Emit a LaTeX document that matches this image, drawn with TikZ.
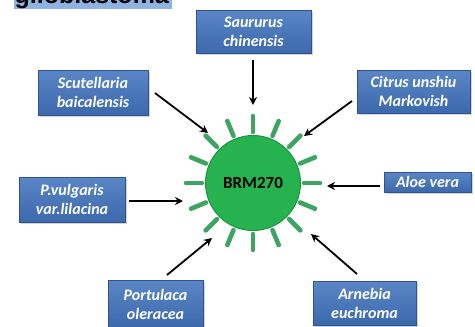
\documentclass[tikz,border=0pt]{standalone}
\usepackage{fontspec}
\setmainfont{Carlito}
\newfontfamily\titlefont{Liberation Sans}
\usetikzlibrary{shadows,arrows.meta,calc}
\definecolor{boxtop}{HTML}{5A86C6}
\definecolor{boxbot}{HTML}{3C69AC}
\definecolor{boxline}{HTML}{2F5390}
\definecolor{ballfill}{HTML}{26B24F}
\definecolor{ballline}{HTML}{1C9440}
\definecolor{spike}{HTML}{3DA462}
\definecolor{hilite}{HTML}{8DB3E2}
\tikzset{
  herb/.style={rectangle, draw=boxline, line width=0.9pt, top color=boxtop, bottom color=boxbot,
    drop shadow={shadow xshift=1.5pt, shadow yshift=-1.8pt, opacity=0.35},
    text=white, font=\fontsize{16}{19}\selectfont\bfseries\itshape, align=center, inner sep=0pt},
  feed/.style={draw=black, line width=1.8pt, -{Stealth[length=8pt,width=8pt]}},
  spk/.style={draw=spike, line width=4.6pt, line cap=round}
}
\begin{document}
\begin{tikzpicture}[x=1pt,y=-1pt]
\useasboundingbox (0,0) rectangle (475,327);
\clip (0,0) rectangle (475,327);
% title remnant
\node[fill=hilite, minimum width=158, minimum height=30, anchor=south west, inner sep=0pt] (hl) at (14,9.5) {};
\node[anchor=base west, inner sep=0pt, font=\titlefont\fontsize{25}{25}\selectfont\bfseries] (title) at (14.5,3.5) {glioblastoma};
% central particle
\coordinate (c) at (253,183);
\foreach \a in {0,22.5,...,337.5}{
  \draw[spk] ($(c)+(\a:51)$) -- ($(c)+(\a:67)$);
}
\node[circle, draw=ballline, line width=1pt, fill=ballfill, minimum size=95, inner sep=0pt,
  font=\fontsize{17}{17}\selectfont\bfseries] (brm) at (c) {BRM270};
% herb boxes
\node[herb, minimum width=115, minimum height=43] (saur) at (253.5,32) {Saururus\\chinensis};
\node[herb, minimum width=110, minimum height=45] (scut) at (93,92.5) {Scutellaria\\baicalensis};
\node[herb, minimum width=113, minimum height=43] (citr) at (413.5,91.5) {Citrus unshiu\\Markovish};
\node[herb, minimum width=106, minimum height=45] (pvul) at (72,199.5) {P.vulgaris\\var.lilacina};
\node[herb, minimum width=87, minimum height=20] (aloe) at (427.5,182) {Aloe vera};
\node[herb, minimum width=95, minimum height=48] (port) at (155.5,304) {Portulaca\\oleracea};
\node[herb, minimum width=103, minimum height=44] (arne) at (364.5,303) {Arnebia\\euchroma};
% arrow end points
\coordinate (s1) at (253,60);  \coordinate (e1) at (253,105);
\coordinate (s2) at (155,93);  \coordinate (e2) at (208,133);
\coordinate (s3) at (352,101); \coordinate (e3) at (304,136);
\coordinate (s4) at (129,201); \coordinate (e4) at (183,201);
\coordinate (s5) at (380,186); \coordinate (e5) at (327,186);
\coordinate (s6) at (167,275); \coordinate (e6) at (212,238);
\coordinate (s7) at (357,274); \coordinate (e7) at (311,234);
\draw[feed] (s1) -- (e1);
\draw[feed] (s2) -- (e2);
\draw[feed] (s3) -- (e3);
\draw[feed] (s4) -- (e4);
\draw[feed] (s5) -- (e5);
\draw[feed] (s6) -- (e6);
\draw[feed] (s7) -- (e7);
\end{tikzpicture}
\end{document}
